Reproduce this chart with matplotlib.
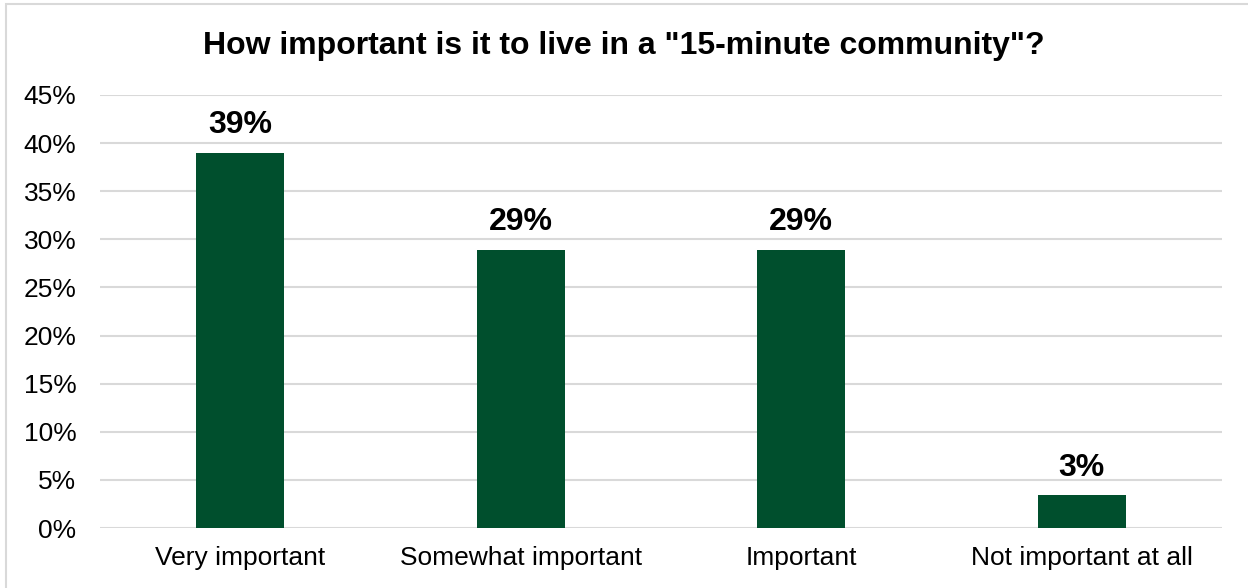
import matplotlib
matplotlib.use("Agg")
import matplotlib.pyplot as plt
from matplotlib.patches import Rectangle
from matplotlib.ticker import MultipleLocator, FuncFormatter

categories = ["Very important", "Somewhat important", "Important", "Not important at all"]
values = [39.0, 28.9, 28.9, 3.4]
labels = ["39%", "29%", "29%", "3%"]

plt.rcParams['font.family'] = ['Liberation Sans', 'DejaVu Sans']

fig = plt.figure(figsize=(12.48, 5.88), dpi=100)
ax = fig.add_axes([100/1248, 1-528/588, (1222-100)/1248, (528-95)/588])

bar_color = "#004f2d"
x = list(range(len(categories)))
bars = ax.bar(x, values, width=0.314, color=bar_color, zorder=3)
for b, lab in zip(bars, labels):
    ax.annotate(lab, (b.get_x()+b.get_width()/2, b.get_height()), xytext=(0, 9),
                textcoords="offset points", ha="center", va="bottom",
                fontsize=23, fontweight="bold", color="black")

ax.set_xlim(-0.5, len(categories)-0.5)
ax.set_ylim(0, 45)
ax.yaxis.set_major_locator(MultipleLocator(5))
ax.yaxis.set_major_formatter(FuncFormatter(lambda v, p: f"{v:.0f}%"))
ax.grid(axis="y", color="#d9d9d9", linewidth=1.5, zorder=0)
ax.set_xticks(x)
ax.set_xticklabels(categories)
ax.tick_params(axis="both", length=0, labelsize=19, colors="black")
ax.tick_params(axis="y", pad=17)
ax.tick_params(axis="x", pad=13)
for s in ax.spines.values():
    s.set_visible(False)

fig.text(0.5, 1-46/588, 'How important is it to live in a "15-minute community"?',
         ha="center", va="center", fontsize=23, fontweight="bold")

fig.patches.append(Rectangle((6/1248, -0.01), 1.01-6/1248, 1-4/588+0.01,
                             transform=fig.transFigure, fill=False,
                             edgecolor="#d9d9d9", linewidth=1.5))

fig.savefig("out.png", dpi=100)
